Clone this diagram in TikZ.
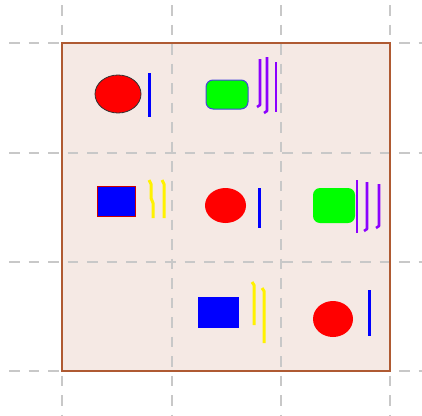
\documentclass[tikz,border=0pt]{standalone}
\usetikzlibrary{calc}
\definecolor{gridgray}{RGB}{200,200,200}
\definecolor{boxfill}{RGB}{245,233,228}
\definecolor{boxdraw}{RGB}{175,90,50}
\definecolor{purp}{RGB}{140,0,255}
\definecolor{outl}{RGB}{70,70,220}
\tikzset{
  gridline/.style={draw=gridgray,line width=1.3pt,dash pattern=on 10.5pt off 9pt},
  bluebar/.style={draw=blue,line width=3pt},
  purpbar/.style={draw=purp,line width=2.6pt,line join=round},
  yelbar/.style={draw=yellow,line width=3pt,line join=round},
  redoval/.style={fill=red},
  greenbox/.style={fill=green,rounded corners=7pt},
  bluebox/.style={fill=blue}
}
\begin{document}
\begin{tikzpicture}[x=1pt,y=-1pt]
\useasboundingbox (0,0) rectangle (422,415);
% main square fill
\fill[boxfill] (62,43) rectangle (390,371);
% grid
\foreach \x in {62,172,281,390} \draw[gridline] (\x,5) -- (\x,415);
\foreach \y in {43,153,262,371} \draw[gridline] (9,\y) -- (422,\y);
% main square border
\draw[draw=boxdraw,line width=2pt] (62,43) rectangle (390,371);
% cell top-left
\draw[redoval,draw=black!80,line width=0.8pt] (118,94) ellipse [x radius=23,y radius=19];
\draw[bluebar] (149,73) -- (149,117);
% cell top-middle
\draw[greenbox,draw=outl,line width=1pt] (206,80) rectangle (248,109);
\draw[purpbar] (260,59) -- (260,105) -- (257,107);
\draw[purpbar] (267,57) -- (267,111) -- (264,113);
\draw[purpbar] (276,62) -- (276,112);
% cell mid-left
\draw[bluebox,draw=red!80!black,line width=1pt] (97,186) rectangle (135,216);
\draw[yelbar] (149,180) -- (151,184) -- (151,198) -- (153,203) -- (153,218);
\draw[yelbar] (162,180) -- (164,184) -- (164,218);
% cell center
\fill[red] (225.5,205.5) ellipse [x radius=20.5,y radius=17.5];
\draw[bluebar] (259,188) -- (259,228);
% cell mid-right
\fill[greenbox] (313,188) rectangle (355,223);
\draw[purpbar] (357,180) -- (357,233);
\draw[purpbar] (367,182) -- (367,229) -- (364,231);
\draw[purpbar] (379,184) -- (379,226) -- (376,228);
% cell bottom-middle
\fill[bluebox] (198,297) rectangle (239,328);
\draw[yelbar] (252,282) -- (254,285) -- (254,325);
\draw[yelbar] (262,288) -- (264,291) -- (264,343);
% cell bottom-right
\fill[red] (333,319) ellipse [x radius=20,y radius=18];
\draw[bluebar] (369,290) -- (369,336);
\end{tikzpicture}
\end{document}
